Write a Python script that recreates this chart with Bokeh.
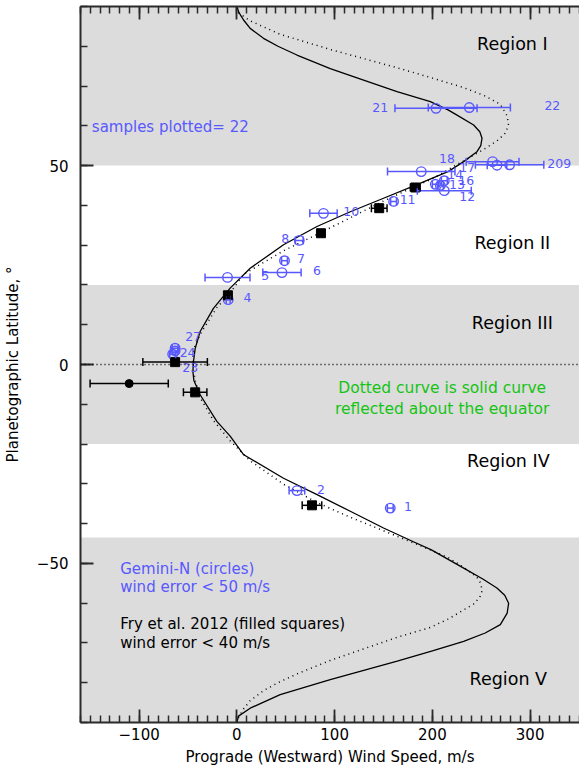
from bokeh.plotting import figure
from bokeh.models import (ColumnDataSource, Whisker, TeeHead, LinearAxis,
                          SingleIntervalTicker, CustomJSTickFormatter, Range1d, Span, Label)
from bokeh.embed import file_html
from bokeh.resources import INLINE
from bokeh.core.properties import value

# ---------------- data ----------------
# solid model curve (latitude, prograde wind speed)
solid_lat = [-90, -88.4, -86.4, -83.0, -79.2, -74.6, -72.0, -69.6, -67.5, -65.4, -62.5, -60.0,
             -58.0, -56.2, -54.0, -51.2, -46.6, -44.5, -41.1, -36.9, -32.7, -28.6, -22.7, -18.0,
             -14.3, -7.6, -4.0, -1.8, 0.75, 4.0, 8.3, 14.1, 19.2, 24.2, 30.1, 34.7, 38.4, 41.8,
             45.2, 48.5, 51.0, 53.5, 55.0, 56.9, 58.5, 60.2, 62.7, 64.0, 66.1, 68.6, 71.5, 74.4,
             77.8, 80.0, 82.0, 84.5, 86.6, 88.5, 90]
solid_u = [0, 1.6, 13.6, 44.3, 95.5, 164, 200, 232, 254, 269.5, 276.5, 278,
           274, 266, 252, 232, 199, 180, 150, 116, 82, 47.7, 7, -6.9,
           -20.5, -37.6, -44, -45, -44.4, -42.7, -37.6, -24, -6.9, 13.6, 47.7, 81.9, 116, 150,
           184.2, 216, 232, 245.6, 249.5, 250.8, 248.5, 242.2, 225.2, 216, 197.9, 163.8, 129.6, 95.5,
           61.4, 42, 27.2, 13.6, 6.8, 2, 0]

# Gemini-N measurements (open circles)
gem_label = ["1", "2", "4", "5", "6", "7", "8", "10", "11", "12", "13", "14", "16", "17",
             "18", "20", "9", "21", "22", "23", "24", "27"]
gem_u = [156.9, 61.4, -8.9, -9.6, 46.1, 48.7, 63.8, 88.6, 160.3, 212.2, 208.1, 203.0, 212.2,
         188.6, 261.6, 266.1, 279.0, 203.7, 237.8, -65.7, -63.2, -63.2]
gem_lat = [-36.1, -31.7, 16.3, 21.9, 23.1, 26.1, 31.2, 38.0, 41.0, 43.7, 45.0, 45.3, 46.2,
           48.5, 51.0, 50.1, 50.2, 64.4, 64.6, 2.6, 3.4, 4.1]
gem_err = [3, 8, 2, 23, 19.6, 3, 4, 14, 3, 27.6, 3, 3, 3, 34.5, 27, 10, 35, 42, 42, 3, 3, 3]

# Fry et al. 2012 (filled squares)
fry_u = [76.8, -42.7, -63.2, -9.2, 86.0, 145.6, 182.5]
fry_lat = [-35.4, -7.0, 0.6, 17.4, 33.0, 39.3, 44.5]
fry_err = [10, 12, 33, 2, 2, 8, 5]

# extra filled dot
dot_u = [-110.2]
dot_lat = [-4.8]
dot_err = [40]

# shaded latitude regions (I, III, V)
band_lo = [50, -20, -90]
band_hi = [90, 20, -43.5]

samples = len(gem_label)

# label placement (layout only, screen pixels: right / down)
lab_dx = [17.7, 24, 19.3, 37.7, 35, 16.4, -14, 27.7, 14, 23, 16.7, 20, 22, 46, -45.6, 58.3,
          57.7, -55.7, 83, 17.5, 12.5, 18]
lab_dy = [-1.7, -1, -2, -1.7, -1.7, -2, -1.7, -1.7, -1.7, 6.3, -0.7, -9.4, 0, -4, -3, -1.7,
          -1.3, -0.5, -1.7, 13.5, 1.5, -11.5]

BLUE = "#5858ff"
GREEN = "#14c414"
GRAY = "#dcdcdc"
FONT = "DejaVu Sans"
AX = "#2a2a2a"
XMIN, XMAX = -160, 350.5

p = figure(width=579, height=768, x_range=Range1d(XMIN, XMAX), y_range=Range1d(-90, 90),
           output_backend="svg", toolbar_location=None,
           min_border_left=80, min_border_right=0, min_border_top=6, min_border_bottom=46)
p.outline_line_color = None
p.xgrid.visible = False
p.ygrid.visible = False
p.background_fill_color = "white"

# shaded bands as underlay glyphs spanning the whole frame width
p.quad(left=[XMIN - 50] * len(band_lo), right=[XMAX + 50] * len(band_lo), bottom=band_lo,
       top=band_hi, fill_color=GRAY, line_color=None, level="underlay")

p.add_layout(Span(location=0, dimension="width", line_color="black", line_width=1.3,
                  line_dash="1 3"))

# curves
p.line(solid_u, solid_lat, line_color="black", line_width=1.3)
p.line(solid_u[::-1], [-v for v in solid_lat[::-1]], line_color="black", line_width=1.5,
       line_dash="1 4")

# Gemini points
gsrc = ColumnDataSource(dict(u=gem_u, lat=gem_lat, lo=[a - b for a, b in zip(gem_u, gem_err)],
                             hi=[a + b for a, b in zip(gem_u, gem_err)], label=gem_label,
                             dx=lab_dx, dy=lab_dy))
p.add_layout(Whisker(source=gsrc, base="lat", lower="lo", upper="hi", dimension="width",
                     line_color=BLUE, line_width=1.5, level="glyph",
                     lower_head=TeeHead(size=8, line_color=BLUE, line_width=1.5),
                     upper_head=TeeHead(size=8, line_color=BLUE, line_width=1.5)))
p.scatter("u", "lat", source=gsrc, marker="circle", size=9.5, fill_color=None,
          line_color=BLUE, line_width=1.4)
p.text("u", "lat", text="label", source=gsrc, x_offset="dx", y_offset="dy",
       text_align="center", text_baseline="middle", text_font=value(FONT),
       text_font_size="12.5px", text_color=BLUE)

# Fry points
fsrc = ColumnDataSource(dict(u=fry_u, lat=fry_lat, lo=[a - b for a, b in zip(fry_u, fry_err)],
                             hi=[a + b for a, b in zip(fry_u, fry_err)]))
p.add_layout(Whisker(source=fsrc, base="lat", lower="lo", upper="hi", dimension="width",
                     line_color="black", line_width=1.5, level="glyph",
                     lower_head=TeeHead(size=8, line_color="black", line_width=1.5),
                     upper_head=TeeHead(size=8, line_color="black", line_width=1.5)))
p.scatter("u", "lat", source=fsrc, marker="square", size=9, fill_color="black",
          line_color="black")

dsrc = ColumnDataSource(dict(u=dot_u, lat=dot_lat, lo=[a - b for a, b in zip(dot_u, dot_err)],
                             hi=[a + b for a, b in zip(dot_u, dot_err)]))
p.add_layout(Whisker(source=dsrc, base="lat", lower="lo", upper="hi", dimension="width",
                     line_color="black", line_width=1.5, level="glyph",
                     lower_head=TeeHead(size=8, line_color="black", line_width=1.5),
                     upper_head=TeeHead(size=8, line_color="black", line_width=1.5)))
p.scatter("u", "lat", source=dsrc, marker="circle", size=8, fill_color="black",
          line_color="black")

# text annotations
def lab(x, y, t, color="black", size="17.5px", align="center"):
    p.add_layout(Label(x=x, y=y, text=t, text_color=color, text_font=FONT,
                       text_font_size=size, text_align=align, text_baseline="middle"))

lab(281.8, 80.5, "Region I")
lab(281.8, 30.5, "Region II")
lab(281.8, 10.5, "Region III")
lab(277.7, -24.3, "Region IV")
lab(277.7, -79.0, "Region V")
lab(-148.4, 59.8, "samples plotted= %d" % samples, BLUE, "15px", "left")
lab(210, -5.9, "Dotted curve is solid curve", GREEN, "15.5px")
lab(210, -11.1, "reflected about the equator", GREEN, "15.5px")
lab(-119.4, -51.3, "Gemini-N (circles)", BLUE, "15px", "left")
lab(-119.4, -55.9, "wind error < 50 m/s", BLUE, "15px", "left")
lab(-119.4, -65.2, "Fry et al. 2012 (filled squares)", "black", "15px", "left")
lab(-119.4, -69.9, "wind error < 40 m/s", "black", "15px", "left")

# axes
fmt = CustomJSTickFormatter(code="return tick < 0 ? '\u2212' + Math.abs(tick) : String(tick);")

def style(ax):
    ax.axis_line_width = 2
    ax.axis_line_color = AX
    ax.major_tick_in = 13
    ax.major_tick_out = 0
    ax.minor_tick_in = 7
    ax.minor_tick_out = 0
    ax.major_tick_line_color = AX
    ax.minor_tick_line_color = AX
    ax.major_tick_line_width = 1.8
    ax.minor_tick_line_width = 1.5
    ax.major_label_text_font = FONT
    ax.major_label_text_font_size = "15px"
    ax.major_label_text_color = "black"
    ax.axis_label_text_font = FONT
    ax.axis_label_text_font_size = "15px"
    ax.axis_label_text_font_style = "normal"
    ax.axis_label_text_color = "black"

xa = p.xaxis[0]
xa.ticker = SingleIntervalTicker(interval=100, num_minor_ticks=10)
xa.formatter = fmt
xa.axis_label = "Prograde (Westward) Wind Speed, m/s"
style(xa)
xa.major_label_standoff = 5
xa.axis_label_standoff = 5

ya = p.yaxis[0]
ya.ticker = SingleIntervalTicker(interval=50, num_minor_ticks=5)
ya.formatter = fmt
ya.axis_label = "Planetographic Latitude, \u00b0"
style(ya)
ya.major_label_standoff = 12
ya.axis_label_standoff = 12

top = LinearAxis(ticker=SingleIntervalTicker(interval=100, num_minor_ticks=10),
                 formatter=CustomJSTickFormatter(code="return '';"))
style(top)
top.major_label_standoff = 0
top.major_label_text_font_size = "1px"
p.add_layout(top, "above")

open("out.html", "w").write(file_html(p, INLINE))
